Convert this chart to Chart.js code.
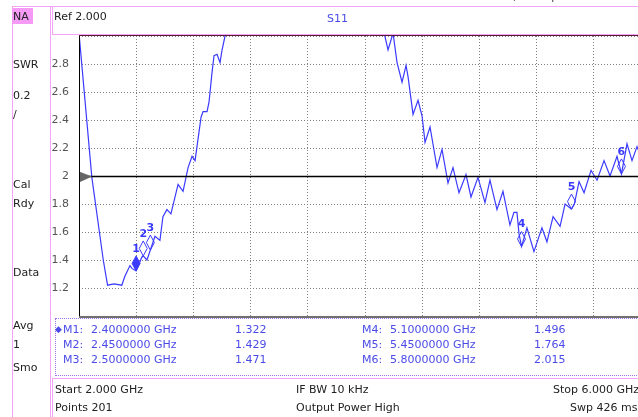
<!DOCTYPE html>
<html>
<head>
<meta charset="utf-8">
<script src="https://cdn.jsdelivr.net/npm/chart.js@4.4.1/dist/chart.umd.min.js"></script>
<style>
  body { margin: 0; width: 638px; height: 417px; overflow: hidden; position: relative; background: #fff;
         font-family: "DejaVu Sans", sans-serif; font-size: 11px; color: #222; }
  #plot { position: absolute; left: 0; top: 0; }
  .ln { position: absolute; background: #f4a4f4; }
  .t { position: absolute; white-space: nowrap; line-height: 13px; }
  .blue { color: #4b4be8; }
</style>
</head>
<body>
<canvas id="plot" width="660" height="417" style="width:660px;height:417px"></canvas>

<!-- frame -->
<div class="ln" style="left:12px;top:6px;width:626px;height:1px"></div>
<div class="ln" style="left:12px;top:6px;width:1px;height:411px"></div>
<div class="ln" style="left:50px;top:6px;width:1px;height:411px"></div>
<div class="ln" style="left:52px;top:6px;width:1px;height:28px"></div>
<div class="ln" style="left:52px;top:34px;width:586px;height:1px"></div>
<div class="ln" style="left:52px;top:378px;width:586px;height:1px"></div>
<div class="ln" style="left:52px;top:378px;width:1px;height:39px"></div>
<div style="position:absolute;left:12px;top:8px;width:21px;height:16px;background:#f59bf5"></div>

<div class="t" style="left:500px;top:-10px;color:#444">Fri, 19 Sep 2025 07:41</div>
<div class="t" style="left:13px;top:10px">NA</div>
<div class="t" style="left:54px;top:10px">Ref 2.000</div>
<div class="t blue" style="left:327px;top:12px">S11</div>

<div class="t" style="left:13px;top:58px">SWR</div>
<div class="t" style="left:13px;top:89px">0.2</div>
<div class="t" style="left:13px;top:108px">/</div>
<div class="t" style="left:13px;top:178px">Cal</div>
<div class="t" style="left:13px;top:197px">Rdy</div>
<div class="t" style="left:13px;top:266px">Data</div>
<div class="t" style="left:13px;top:319px">Avg</div>
<div class="t" style="left:13px;top:338px">1</div>
<div class="t" style="left:13px;top:361px">Smo</div>

<div style="position:absolute;left:55px;top:318px;width:620px;height:56px;border:1px dotted #a070e0;"></div>
<div id="mtable"></div>

<div class="t" style="left:55px;top:383px">Start 2.000 GHz</div>
<div class="t" style="left:55px;top:401px">Points 201</div>
<div class="t" style="left:296px;top:383px">IF BW 10 kHz</div>
<div class="t" style="left:296px;top:401px">Output Power High</div>
<div class="t" style="left:553px;top:383px">Stop 6.000 GHz</div>
<div class="t" style="left:570px;top:401px">Swp 426 ms</div>

<script>
// S11 SWR trace (GHz / SWR)
var freqGHz = [2.00, 2.09, 2.17, 2.20, 2.245, 2.30, 2.32, 2.357, 2.371, 2.40,
  2.44, 2.45, 2.476, 2.50, 2.532, 2.567, 2.588, 2.616, 2.644, 2.694,
  2.729, 2.764, 2.792, 2.813, 2.855, 2.869, 2.897, 2.911, 2.932, 2.946,
  2.967, 2.988, 3.002, 3.023, 3.10, 3.40, 3.70, 4.00, 4.12, 4.165,
  4.20, 4.228, 4.263, 4.291, 4.305, 4.34, 4.375, 4.403, 4.424, 4.459,
  4.508, 4.543, 4.585, 4.62, 4.662, 4.711, 4.746, 4.795, 4.844, 4.879,
  4.928, 4.97, 5.019, 5.047, 5.068, 5.082, 5.10, 5.138, 5.187, 5.243,
  5.278, 5.321, 5.37, 5.405, 5.45, 5.47, 5.503, 5.538, 5.587, 5.629,
  5.678, 5.72, 5.769, 5.80, 5.839, 5.874, 5.909, 5.94, 6.00];
var swr = [3.02, 1.99, 1.40, 1.22, 1.23, 1.22, 1.28, 1.36, 1.34, 1.322,
  1.42, 1.429, 1.40, 1.471, 1.57, 1.54, 1.71, 1.76, 1.73, 1.94,
  1.89, 2.06, 2.14, 2.11, 2.42, 2.46, 2.46, 2.53, 2.74, 2.86,
  2.87, 2.81, 2.90, 3.00, 3.30, 3.90, 4.10, 3.60, 3.10, 2.90,
  3.02, 2.81, 2.67, 2.79, 2.71, 2.44, 2.54, 2.43, 2.24, 2.35,
  2.06, 2.19, 1.95, 2.06, 1.88, 2.01, 1.85, 1.99, 1.81, 1.97,
  1.76, 1.89, 1.65, 1.74, 1.74, 1.59, 1.496, 1.63, 1.46, 1.63,
  1.53, 1.71, 1.64, 1.80, 1.764, 1.80, 1.96, 1.88, 2.04, 1.97,
  2.11, 2.00, 2.14, 2.015, 2.23, 2.11, 2.21, 2.13, 2.22];

// markers
var markerNames = ['M1', 'M2', 'M3', 'M4', 'M5', 'M6'];
var markerFreq = [2.40, 2.45, 2.50, 5.10, 5.45, 5.80];
var markerSwr = [1.322, 1.429, 1.471, 1.496, 1.764, 2.015];
var activeMarker = 0;

// axes
var xTicks = [2.0, 2.4, 2.8, 3.2, 3.6, 4.0, 4.4, 4.8, 5.2, 5.6, 6.0];
var yTicks = [1.0, 1.2, 1.4, 1.6, 1.8, 2.0, 2.2, 2.4, 2.6, 2.8, 3.0];
var refLevel = 2.0;

var BLUE = '#3a3aff';

// marker table below the plot
var tbl = document.getElementById('mtable');
markerNames.forEach(function(name, i) {
  var col = i < 3 ? 0 : 1;
  var row = i % 3;
  var top = 323 + row * 15;
  var x0 = col === 0 ? 63 : 362;
  var html = '';
  if (i === activeMarker) html += '<div class="t blue" style="left:55px;top:' + top + 'px;font-size:9px">&#9670;</div>';
  html += '<div class="t blue" style="left:' + x0 + 'px;top:' + top + 'px">' + name + ':</div>';
  html += '<div class="t blue" style="left:' + (x0 + 28) + 'px;top:' + top + 'px">' + markerFreq[i].toFixed(7) + ' GHz</div>';
  html += '<div class="t blue" style="left:' + (x0 + 172) + 'px;top:' + top + 'px">' + markerSwr[i].toFixed(3) + '</div>';
  tbl.insertAdjacentHTML('beforeend', html);
});

// dotted graticule, drawn at the scale ticks
var gridPlugin = {
  id: 'dotgrid',
  beforeDatasetsDraw: function(chart) {
    var ctx = chart.ctx, a = chart.chartArea;
    var xs = chart.scales.x, ys = chart.scales.y;
    ctx.save();
    ctx.strokeStyle = '#808080';
    ctx.lineWidth = 1;
    ctx.setLineDash([1, 2]);
    xs.ticks.forEach(function(t) {
      var px = Math.round(xs.getPixelForValue(t.value)) + 0.5;
      ctx.beginPath(); ctx.moveTo(px, a.top); ctx.lineTo(px, a.bottom); ctx.stroke();
    });
    ys.ticks.forEach(function(t) {
      var py = Math.round(ys.getPixelForValue(t.value)) + 0.5;
      ctx.beginPath(); ctx.moveTo(a.left, py); ctx.lineTo(a.right, py); ctx.stroke();
    });
    ctx.restore();
  }
};

var framePlugin = {
  id: 'frame',
  afterDatasetsDraw: function(chart) {
    var ctx = chart.ctx, a = chart.chartArea;
    var xs = chart.scales.x, ys = chart.scales.y;
    ctx.save();
    // reference line
    var yr = Math.round(ys.getPixelForValue(refLevel)) + 0.5;
    ctx.strokeStyle = '#000';
    ctx.lineWidth = 1.3;
    ctx.beginPath(); ctx.moveTo(a.left, yr); ctx.lineTo(a.right, yr); ctx.stroke();
    // reference arrow
    ctx.fillStyle = '#666';
    ctx.beginPath(); ctx.moveTo(a.left, yr - 5); ctx.lineTo(a.left + 13, yr); ctx.lineTo(a.left, yr + 6); ctx.closePath(); ctx.fill();
    // border
    ctx.strokeStyle = '#000'; ctx.lineWidth = 1;
    ctx.beginPath(); ctx.moveTo(a.left + 0.5, a.top); ctx.lineTo(a.left + 0.5, a.bottom); ctx.stroke();
    ctx.strokeStyle = '#707070'; ctx.lineWidth = 2;
    ctx.beginPath(); ctx.moveTo(a.left, a.bottom + 1); ctx.lineTo(chart.width, a.bottom + 1); ctx.stroke();
    ctx.strokeStyle = '#5a1a3a'; ctx.lineWidth = 1;
    ctx.beginPath(); ctx.moveTo(a.left, a.top - 0.5); ctx.lineTo(chart.width, a.top - 0.5); ctx.stroke();
    // marker diamonds and numbers
    ctx.font = 'bold 11px "DejaVu Sans"';
    ctx.textAlign = 'center';
    ctx.textBaseline = 'middle';
    markerFreq.forEach(function(f, i) {
      var px = xs.getPixelForValue(f), py = ys.getPixelForValue(markerSwr[i]);
      ctx.beginPath();
      ctx.moveTo(px, py); ctx.lineTo(px + 4, py - 7.5); ctx.lineTo(px, py - 15); ctx.lineTo(px - 4, py - 7.5); ctx.closePath();
      ctx.lineWidth = 1;
      if (i === activeMarker) { ctx.fillStyle = BLUE; ctx.fill(); }
      ctx.strokeStyle = BLUE; ctx.stroke();
      ctx.fillStyle = BLUE;
      ctx.fillText(markerNames[i].slice(1), px, py - 22);
    });
    ctx.restore();
  }
};

new Chart(document.getElementById('plot').getContext('2d'), {
  type: 'line',
  data: {
    datasets: [{
      data: freqGHz.map(function(f, i) { return { x: f, y: swr[i] }; }),
      borderColor: BLUE,
      borderWidth: 1.2,
      pointRadius: 0,
      tension: 0
    }]
  },
  options: {
    responsive: false,
    animation: false,
    layout: { padding: { top: 36, right: 10, bottom: 101, left: 0 } },
    plugins: { legend: { display: false }, tooltip: { enabled: false } },
    scales: {
      x: {
        type: 'linear', min: 2, max: 6,
        afterBuildTicks: function(s) { s.ticks = xTicks.map(function(v) { return { value: v }; }); },
        afterFit: function(s) { s.height = 0; },
        ticks: { display: false },
        grid: { display: false },
        border: { display: false }
      },
      y: {
        type: 'linear', min: 1, max: 3,
        afterBuildTicks: function(s) { s.ticks = yTicks.map(function(v) { return { value: v }; }); },
        afterFit: function(s) { s.width = 79; },
        ticks: {
          color: '#555',
          padding: 2,
          font: { family: 'DejaVu Sans', size: 11 },
          callback: function(v) {
            if (v === 1 || v === 3) return '';
            if (v === 2) return '2';
            return v.toFixed(1);
          }
        },
        grid: { display: false },
        border: { display: false }
      }
    }
  },
  plugins: [gridPlugin, framePlugin]
});
</script>
</body>
</html>
